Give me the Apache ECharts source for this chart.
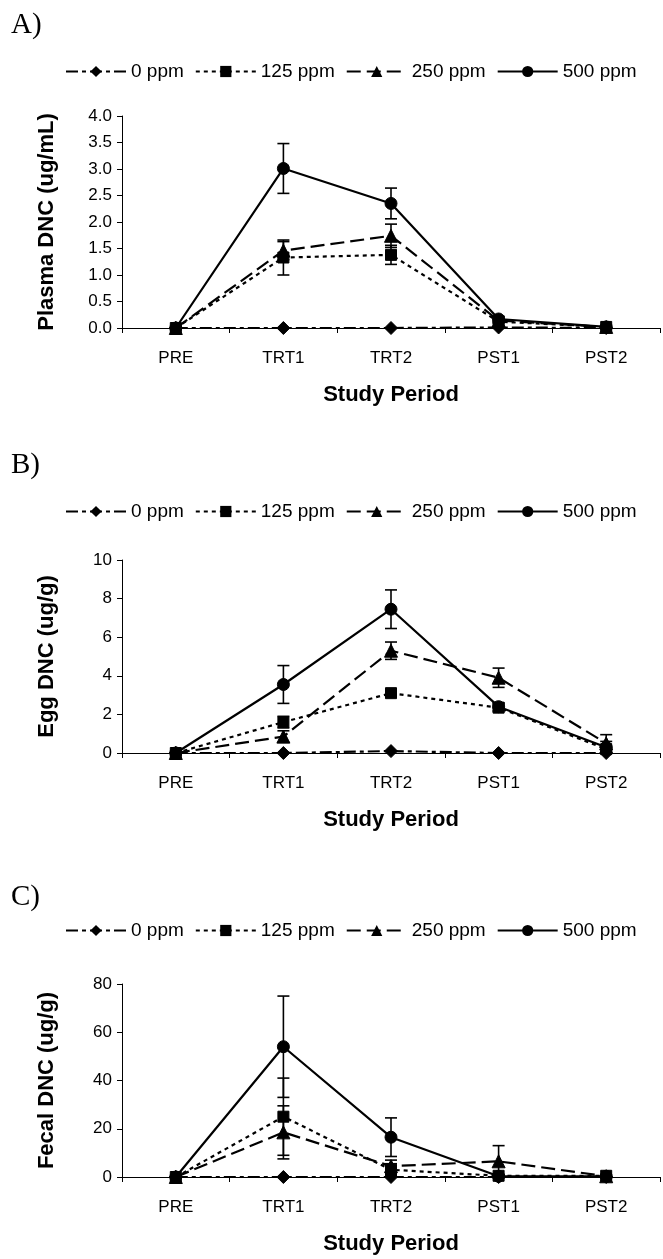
<!DOCTYPE html>
<html><head><meta charset="utf-8">
<script src="https://cdn.jsdelivr.net/npm/echarts@6/dist/echarts.min.js"></script>
<style>html,body{margin:0;padding:0;background:#fff}#c{width:663px;height:1259px}</style>
</head><body><div id="c"></div>
<script>
const categories = ['PRE','TRT1','TRT2','PST1','PST2'];
const seriesNames = ['0 ppm','125 ppm','250 ppm','500 ppm'];

const plasma0 = [0, 0, 0, 0.01, 0];
const plasma125 = [0, 1.33, 1.38, 0.12, 0.02];
const plasma250 = [0, 1.46, 1.74, 0.14, 0.02];
const plasma500 = [0, 3.01, 2.35, 0.17, 0.02];
const plasma125Err = [0, 0.33, 0.18, 0.03, 0];
const plasma250Err = [0, 0.17, 0.22, 0.03, 0];
const plasma500Err = [0, 0.47, 0.29, 0.05, 0];

const egg0 = [0, 0, 0.1, 0, 0];
const egg125 = [0, 1.6, 3.1, 2.35, 0.2];
const egg250 = [0, 0.85, 5.3, 3.9, 0.5];
const egg500 = [0, 3.55, 7.45, 2.4, 0.3];
const egg125Err = [0, 0.3, 0.2, 0.2, 0.1];
const egg250Err = [0, 0.3, 0.45, 0.5, 0.45];
const egg500Err = [0, 0.98, 1.0, 0.2, 0.3];

const fecal0 = [0, 0, 0, 0, 0];
const fecal125 = [0, 25, 3, 0.5, 0.5];
const fecal250 = [0, 18.5, 4.5, 6.5, 0.3];
const fecal500 = [0, 54, 16.5, 0.3, 0.3];
const fecal125Err = [0, 16, 2.5, 0.5, 0];
const fecal250Err = [0, 11, 2.5, 6.5, 0];
const fecal500Err = [0, 21, 8, 0.5, 0];

const yTicksA = {min: 0, max: 4, interval: 0.5, digits: 1};
const yTicksB = {min: 0, max: 10, interval: 2, digits: 0};
const yTicksC = {min: 0, max: 80, interval: 20, digits: 0};

const panels = [
  {label: 'A)', yName: 'Plasma DNC (ug/mL)', ticks: yTicksA, vals: [plasma0, plasma125, plasma250, plasma500], errs: [null, plasma125Err, plasma250Err, plasma500Err], top: 116, height: 212, legendTop: 57, labelTop: 6},
  {label: 'B)', yName: 'Egg DNC (ug/g)', ticks: yTicksB, vals: [egg0, egg125, egg250, egg500], errs: [null, egg125Err, egg250Err, egg500Err], top: 560, height: 193, legendTop: 497, labelTop: 446},
  {label: 'C)', yName: 'Fecal DNC (ug/g)', ticks: yTicksC, vals: [fecal0, fecal125, fecal250, fecal500], errs: [null, fecal125Err, fecal250Err, fecal500Err], top: 984, height: 193, legendTop: 916, labelTop: 878}
];

const styles = [
  {symbol: 'diamond', size: 13, dash: [12, 4, 4, 4]},
  {symbol: 'rect', size: 11, dash: [4, 4]},
  {symbol: 'triangle', size: 13, dash: [14, 6]},
  {symbol: 'circle', size: 12, dash: 'solid'}
];

const FONT = '"Liberation Sans", Arial, sans-serif';
const option = {
  animation: false,
  backgroundColor: '#fff',
  title: [], grid: [], xAxis: [], yAxis: [], legend: [], series: []
};

panels.forEach((p, gi) => {
  option.title.push({text: p.label, left: 6, top: p.labelTop,
    textStyle: {fontFamily: '"Liberation Serif", "Times New Roman", serif', fontSize: 29, fontWeight: 'normal', color: '#000'}});
  option.grid.push({left: 122, right: 3, top: p.top, height: p.height});
  option.xAxis.push({type: 'category', gridIndex: gi, data: categories, boundaryGap: true,
    name: 'Study Period', nameLocation: 'middle', nameGap: 56,
    nameTextStyle: {fontFamily: FONT, fontSize: 22, fontWeight: 'bold', color: '#000'},
    axisLine: {lineStyle: {color: '#000', width: 1}},
    axisTick: {show: true, length: 5, lineStyle: {color: '#000'}},
    axisLabel: {fontFamily: FONT, fontSize: 17, color: '#000', margin: 22},
    splitLine: {show: false}});
  option.yAxis.push({type: 'value', gridIndex: gi, min: p.ticks.min, max: p.ticks.max, interval: p.ticks.interval,
    name: p.yName, nameLocation: 'middle', nameGap: 64, nameRotate: 90,
    nameTextStyle: {fontFamily: FONT, fontSize: 22, fontWeight: 'bold', color: '#000'},
    axisLine: {show: true, lineStyle: {color: '#000', width: 1}},
    axisTick: {show: true, length: 5, lineStyle: {color: '#000'}},
    axisLabel: {fontFamily: FONT, fontSize: 17, color: '#000', margin: 10,
      formatter: v => v.toFixed(p.ticks.digits)},
    splitLine: {show: false}});
  option.legend.push({top: p.legendTop, left: 60, itemWidth: 60, itemHeight: 14, itemGap: 11,
    data: seriesNames, selectedMode: false,
    textStyle: {fontFamily: FONT, fontSize: 19, color: '#000'}});
  seriesNames.forEach((name, si) => {
    const st = styles[si];
    option.series.push({name: name, type: 'line', xAxisIndex: gi, yAxisIndex: gi,
      data: p.vals[si], symbol: st.symbol, symbolSize: st.size, showSymbol: true,
      lineStyle: {color: '#000', width: 2.2, type: st.dash},
      itemStyle: {color: '#000', borderColor: '#000'}, z: 3 + si});
    if (p.errs[si]) {
      const errData = p.vals[si].map((v, i) => [i, v - p.errs[si][i], v + p.errs[si][i]]);
      option.series.push({type: 'custom', xAxisIndex: gi, yAxisIndex: gi, data: errData, z: 2, silent: true,
        renderItem: (params, api) => {
          const x = api.value(0), lo = api.value(1), hi = api.value(2);
          if (hi - lo <= 0) return null;
          const pLo = api.coord([x, Math.max(lo, 0)]);
          const pHi = api.coord([x, hi]);
          const w = 6;
          const ls = {stroke: '#000', lineWidth: 1.6};
          return {type: 'group', children: [
            {type: 'line', shape: {x1: pLo[0], y1: pLo[1], x2: pHi[0], y2: pHi[1]}, style: ls},
            {type: 'line', shape: {x1: pHi[0] - w, y1: pHi[1], x2: pHi[0] + w, y2: pHi[1]}, style: ls},
            {type: 'line', shape: {x1: pLo[0] - w, y1: pLo[1], x2: pLo[0] + w, y2: pLo[1]}, style: ls}
          ]};
        }});
    }
  });
});

const chart = echarts.init(document.getElementById('c'), null, {renderer: 'canvas'});
chart.setOption(option);
</script></body></html>
